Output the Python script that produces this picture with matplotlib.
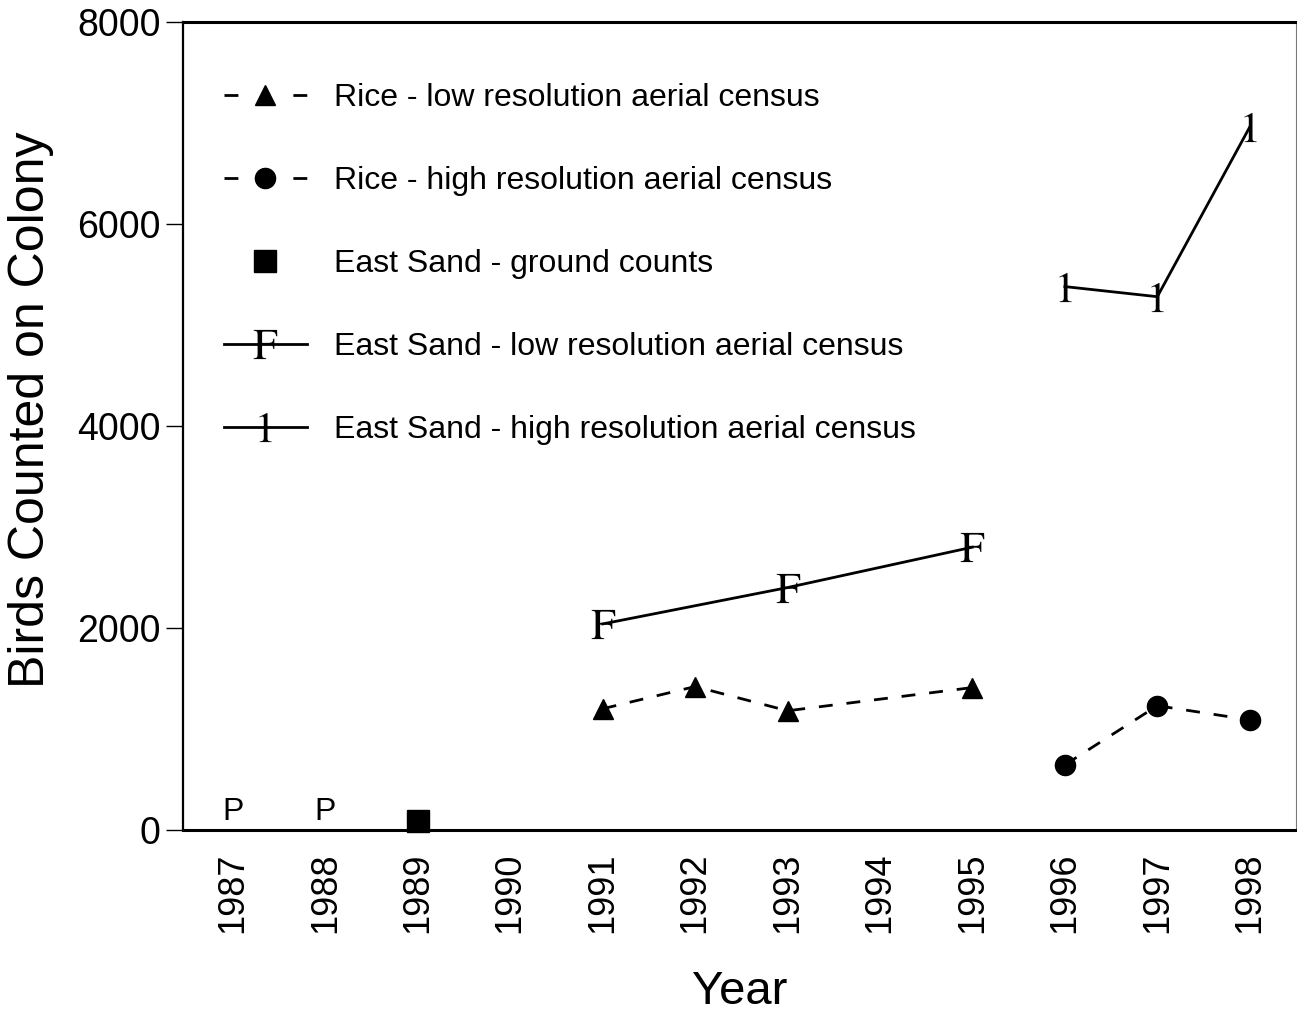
import matplotlib
matplotlib.use("Agg")
import matplotlib.pyplot as plt
from matplotlib.lines import Line2D

plt.rcParams['font.family'] = ['Liberation Sans', 'DejaVu Sans']
plt.rcParams['mathtext.fontset'] = 'stix'

years = ["1987", "1988", "1989", "1990", "1991", "1992", "1993", "1994",
         "1995", "1996", "1997", "1998"]

rice_low_years = ["1991", "1992", "1993", "1995"]
rice_low_vals = [1200, 1420, 1180, 1410]

rice_high_years = ["1996", "1997", "1998"]
rice_high_vals = [645, 1230, 1090]

es_ground_years = ["1989"]
es_ground_vals = [90]

es_low_years = ["1991", "1993", "1995"]
es_low_vals = [2040, 2400, 2800]

es_high_years = ["1996", "1997", "1998"]
es_high_vals = [5380, 5280, 6960]

present_years = ["1987", "1988"]
present_vals = [180, 180]
present_label = "P"

yticks = [0, 2000, 4000, 6000, 8000]

def idx(ylist):
    return [years.index(y) for y in ylist]

fig = plt.figure(figsize=(12.97, 10.13), dpi=100)
ax = fig.add_axes([0.1411, 0.1807, 0.8581, 0.7976])

dash = (5, 5)
ax.plot(idx(rice_low_years), rice_low_vals, color='black', lw=2, dashes=dash,
        marker='^', ms=14.5, mfc='black', mec='black', clip_on=False)
ax.plot(idx(rice_high_years), rice_high_vals, color='black', lw=2, dashes=dash,
        marker='o', ms=14.5, mfc='black', mec='black', clip_on=False)
ax.plot(idx(es_ground_years), es_ground_vals, linestyle='none',
        marker='s', ms=16, mfc='black', mec='black', clip_on=False, zorder=5)
ax.plot(idx(es_low_years), es_low_vals, color='black', lw=2,
        marker=r'$\mathrm{F}$', ms=21, mfc='black', mec='black', mew=0, clip_on=False)
ax.plot(idx(es_high_years), es_high_vals, color='black', lw=2,
        marker=r'$\mathrm{1}$', ms=21, mfc='black', mec='black', mew=0, clip_on=False)

for x, v in zip(idx(present_years), present_vals):
    ax.text(x, v, present_label, ha='center', va='center', fontsize=23)

ax.set_xlim(-0.54, 11.5)
ax.set_ylim(0, 8000)
ax.set_xticks(range(len(years)))
ax.set_xticklabels(years, rotation=90, fontsize=26)
ax.set_yticks(yticks)
ax.set_yticklabels([str(t) for t in yticks], fontsize=27)
ax.tick_params(axis='x', length=0, pad=16)
ax.tick_params(axis='y', length=12, width=1, pad=4)

ax.set_xlabel("Year", fontsize=34, labelpad=27)
ax.set_ylabel("Birds Counted on Colony", fontsize=36)
ax.yaxis.set_label_coords(-0.116, 0.52)

ax.spines['top'].set_linewidth(2.2)
ax.spines['bottom'].set_linewidth(2.2)
ax.spines['left'].set_linewidth(1.6)
ax.spines['right'].set_linewidth(0.8)
ax.spines['right'].set_color('#777777')

leg_dash = (5, 19.8)
handles = [
    Line2D([], [], color='black', lw=2, dashes=leg_dash, marker='^', ms=14.5),
    Line2D([], [], color='black', lw=2, dashes=leg_dash, marker='o', ms=14.5),
    Line2D([], [], linestyle='none', color='black', marker='s', ms=16),
    Line2D([], [], color='black', lw=2, marker=r'$\mathrm{F}$', ms=21, mew=0),
    Line2D([], [], color='black', lw=2, marker=r'$\mathrm{1}$', ms=21, mew=0),
]
labels = ["Rice - low resolution aerial census",
          "Rice - high resolution aerial census",
          "East Sand - ground counts",
          "East Sand - low resolution aerial census",
          "East Sand - high resolution aerial census"]
ax.legend(handles, labels, loc='upper left', bbox_to_anchor=(0.025, 0.94),
          frameon=False, fontsize=23, handlelength=2.6, handletextpad=0.85,
          labelspacing=1.66, borderaxespad=0)

fig.savefig("out.png", dpi=100)
